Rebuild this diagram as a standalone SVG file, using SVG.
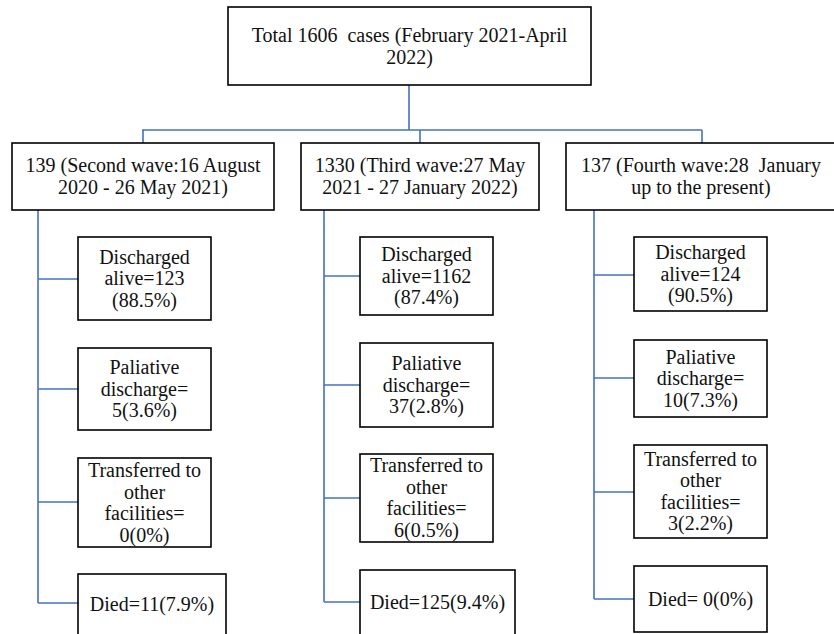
<svg xmlns="http://www.w3.org/2000/svg" width="834" height="634" viewBox="0 0 834 634" font-family="'Liberation Serif', 'DejaVu Serif', serif">
<style>
.box{fill:#fff;stroke:#000;stroke-width:1.6}
text{font-family:'Liberation Serif','DejaVu Serif',serif;font-size:20px;fill:#111;text-anchor:middle;white-space:pre}
.c{fill:none;stroke:#4472C4;stroke-width:1.6}
</style>
<rect width="834" height="634" fill="#fff"/>
<g id="connectors" class="c">
<path d="M409,85V130M142,130H702M143,130V143M420,130V143M702,130V143"/>
<path d="M38,210V603M38,279H78M38,389H78M38,502H78M38,603H78"/>
<path d="M324,210V602M324,276H360M324,385H360M324,498H360M324,602H360"/>
<path d="M594,210V599M594,275H634M594,378H634M594,492H634M594,599H634"/>
</g>
<g id="total"><rect class="box" x="228" y="7" width="363" height="78"/>
<text x="409.5" y="42">Total 1606  cases (February 2021-April</text><text x="409.5" y="64">2022)</text></g>
<g id="wave2"><rect class="box" x="12" y="143" width="262" height="67"/>
<text x="143" y="172">139 (Second wave:16 August</text><text x="143" y="194">2020 - 26 May 2021)</text></g>
<g id="wave3"><rect class="box" x="301" y="143" width="238" height="67"/>
<text x="420" y="172">1330 (Third wave:27 May</text><text x="420" y="194">2021 - 27 January 2022)</text></g>
<g id="wave4"><rect class="box" x="566" y="143" width="272" height="67"/>
<text x="701" y="172">137 (Fourth wave:28  January</text><text x="701" y="194">up to the present)</text></g>

<g id="w2-discharged"><rect class="box" x="78" y="237" width="133" height="83"/>
<text x="144.5" y="263.5">Discharged</text><text x="144.5" y="285">alive=123</text><text x="144.5" y="306.5">(88.5%)</text></g>
<g id="w2-palliative"><rect class="box" x="78" y="348" width="133" height="82"/>
<text x="144.5" y="374">Paliative</text><text x="144.5" y="395.5">discharge=</text><text x="144.5" y="417">5(3.6%)</text></g>
<g id="w2-transferred"><rect class="box" x="78" y="458" width="133" height="89"/>
<text x="144.5" y="477">Transferred to</text><text x="144.5" y="498.5">other</text><text x="144.5" y="520">facilities=</text><text x="144.5" y="541.5">0(0%)</text></g>
<g id="w2-died"><rect class="box" x="78" y="574" width="148" height="62"/>
<text x="152" y="610.5">Died=11(7.9%)</text></g>

<g id="w3-discharged"><rect class="box" x="360" y="237" width="133" height="78"/>
<text x="426.5" y="261">Discharged</text><text x="426.5" y="282.5">alive=1162</text><text x="426.5" y="304">(87.4%)</text></g>
<g id="w3-palliative"><rect class="box" x="360" y="343" width="133" height="84"/>
<text x="426.5" y="370">Paliative</text><text x="426.5" y="391.5">discharge=</text><text x="426.5" y="413">37(2.8%)</text></g>
<g id="w3-transferred"><rect class="box" x="360" y="454" width="133" height="88"/>
<text x="426.5" y="472">Transferred to</text><text x="426.5" y="493.5">other</text><text x="426.5" y="515">facilities=</text><text x="426.5" y="536.5">6(0.5%)</text></g>
<g id="w3-died"><rect class="box" x="360" y="570" width="155" height="66"/>
<text x="437.5" y="608.5">Died=125(9.4%)</text></g>

<g id="w4-discharged"><rect class="box" x="634" y="237" width="133" height="74"/>
<text x="700.5" y="259">Discharged</text><text x="700.5" y="280.5">alive=124</text><text x="700.5" y="302">(90.5%)</text></g>
<g id="w4-palliative"><rect class="box" x="634" y="340" width="133" height="77"/>
<text x="700.5" y="363.5">Paliative</text><text x="700.5" y="385">discharge=</text><text x="700.5" y="406.5">10(7.3%)</text></g>
<g id="w4-transferred"><rect class="box" x="634" y="445" width="133" height="93"/>
<text x="700.5" y="465.5">Transferred to</text><text x="700.5" y="487">other</text><text x="700.5" y="508.5">facilities=</text><text x="700.5" y="530">3(2.2%)</text></g>
<g id="w4-died"><rect class="box" x="634" y="566" width="133" height="66"/>
<text x="700.5" y="605.5">Died= 0(0%)</text></g>
</svg>
